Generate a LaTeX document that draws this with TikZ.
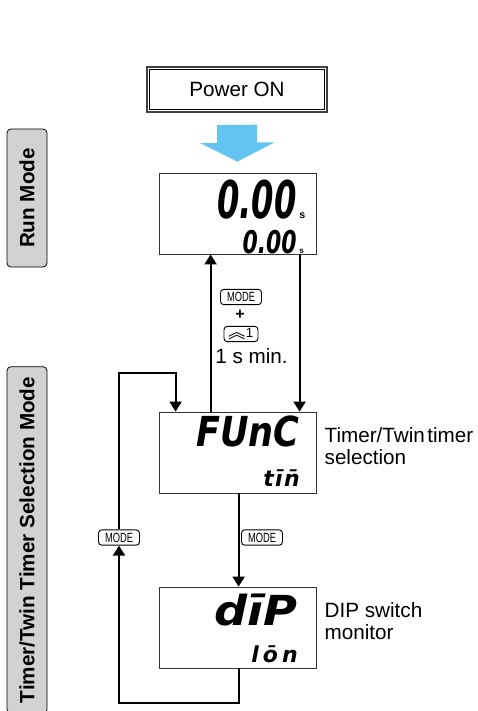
\documentclass[tikz,border=0pt]{standalone}
\usepackage{fontspec}
\setmainfont{Liberation Sans}
\newfontfamily\lcdfont{DejaVu Sans}
\newfontfamily\cjkfont{Noto Sans CJK SC}
\usepackage{graphicx}
\usepackage{xcolor}
\usetikzlibrary{arrows.meta, calc}
\definecolor{powerblue}{RGB}{98,196,240}
\definecolor{modegray}{RGB}{210,210,210}

\begin{document}
\begin{tikzpicture}[x=0.75pt, y=-0.75pt, >={Triangle[length=7.5pt, width=9pt]},
  every node/.style={font=\fontsize{15.5}{16.5}\selectfont},
  lcd/.style={draw=black!80, line width=0.6pt, minimum width=117.75pt, minimum height=60.75pt, inner sep=0pt},
  seg/.style={inner sep=0pt, anchor=base east},
  unit/.style={inner sep=0pt, anchor=base west, font=\fontsize{8}{8}\selectfont\bfseries},
  key/.style={draw, rounded corners=2.5pt, line width=0.7pt, inner sep=0pt, minimum height=11.5pt, font=\fontsize{10}{10}\selectfont},
  modebox/.style={draw, rounded corners=3pt, fill=modegray, line width=0.6pt, rotate=90, minimum height=30pt, inner sep=0pt, font=\fontsize{15.5}{16.5}\selectfont\bfseries},
  flow/.style={->, line width=1.5pt}]
  \useasboundingbox (0,0) rectangle (478,711);
  % mode bars on the left
  \node[modebox, minimum width=103.5pt] (runMode) at (27,198) {Run Mode};
  \node[modebox, minimum width=260pt] (tsMode) at (27,540) {Timer/Twin Timer Selection Mode};
  % power on
  \node[draw=black!75, line width=1.3pt, minimum width=135pt, minimum height=33.75pt] (power) at (237,89.5) {Power ON};
  \draw[line width=0.6pt] ($(power.north west)+(3,3)$) rectangle ($(power.south east)+(-3,-3)$);
  % displays
  \node[lcd] (run) at (237.5,213.5) {};
  \node[lcd] (func) at (237.5,452.5) {};
  \node[lcd] (dip) at (237.5,627.5) {};
  \node[seg] (runBig) at (297,218) {\lcdfont\bfseries\itshape\fontsize{39}{39}\selectfont\scalebox{0.62}[1]{0.00}};
  \node[unit] (runBigUnit) at (299,218) {s};
  \node[seg] (runSmall) at (297,253) {\lcdfont\bfseries\itshape\fontsize{23.5}{23.5}\selectfont\scalebox{0.7}[1]{0.00}};
  \node[unit, font=\fontsize{6}{6}\selectfont\bfseries] (runSmallUnit) at (299,253) {s};
  \node[seg] (funcTop) at (300,446) {\lcdfont\bfseries\itshape\fontsize{31}{31}\selectfont\scalebox{0.85}[1]{FUnC}};
  \node[seg] (funcBottom) at (300,486) {\lcdfont\bfseries\itshape\fontsize{16.5}{16.5}\selectfont t\hspace{1pt}\=\i\hspace{1pt}\=n};
  \node[seg] (dipTop) at (298,625) {\lcdfont\bfseries\itshape\fontsize{31}{31}\selectfont\scalebox{1.12}[1]{d\=\i P}};
  \node[seg] (dipBottom) at (298,662) {\lcdfont\bfseries\itshape\fontsize{16.5}{16.5}\selectfont l\hspace{3pt}\=o\hspace{3pt}n};
  % captions
  \node[anchor=north west, align=left, inner sep=0pt] (funcText) at ($(func.north east)+(8,16)$) {Timer/Twin\hspace{0.12em}timer\\selection};
  \node[anchor=north west, align=left, inner sep=0pt] (dipText) at ($(dip.north east)+(8,16)$) {DIP switch\\monitor};
  % keys
  \node[key, minimum width=30.75pt] (keyMode) at (241,297) {\scalebox{0.7}[1]{MODE}};
  \node[font=\fontsize{12}{12}\selectfont\bfseries] (plusSign) at (240,315) {+};
  \node[key, minimum width=25.5pt] (keyUp) at (241,334) {\raisebox{-1pt}{\cjkfont\fontsize{13}{13}\selectfont ︽}\fontsize{10}{10}\selectfont 1};
  \node[anchor=base] (minTime) at (251.5,363) {1 s min.};
  \node[key, minimum width=30.75pt] (modeLeft) at (119,537.5) {\scalebox{0.7}[1]{MODE}};
  \node[key, minimum width=30.75pt] (modeRight) at (262,537.5) {\scalebox{0.7}[1]{MODE}};
  % arrows
  \draw[line width=30pt, powerblue, -{Triangle[width=55.5pt, length=14.25pt]}, shorten <=9pt, shorten >=8.25pt] (power.south) -- (run.north);
  \draw[flow] ($(func.north west)+(52,0)$) -- ($(run.south west)+(52,0)$);
  \draw[flow] ($(run.south west)+(141,0)$) -- ($(func.north west)+(141,0)$);
  \draw[flow] ($(func.south west)+(80,0)$) -- ($(dip.north west)+(80,0)$);
  \draw[flow] ($(dip.south west)+(80,0)$) -- ++(0,35) -| (modeLeft.south);
  \draw[flow] (modeLeft.north) |- ($(func.north west)+(17,-39)$) -- ($(func.north west)+(17,0)$);
\end{tikzpicture}
\end{document}
